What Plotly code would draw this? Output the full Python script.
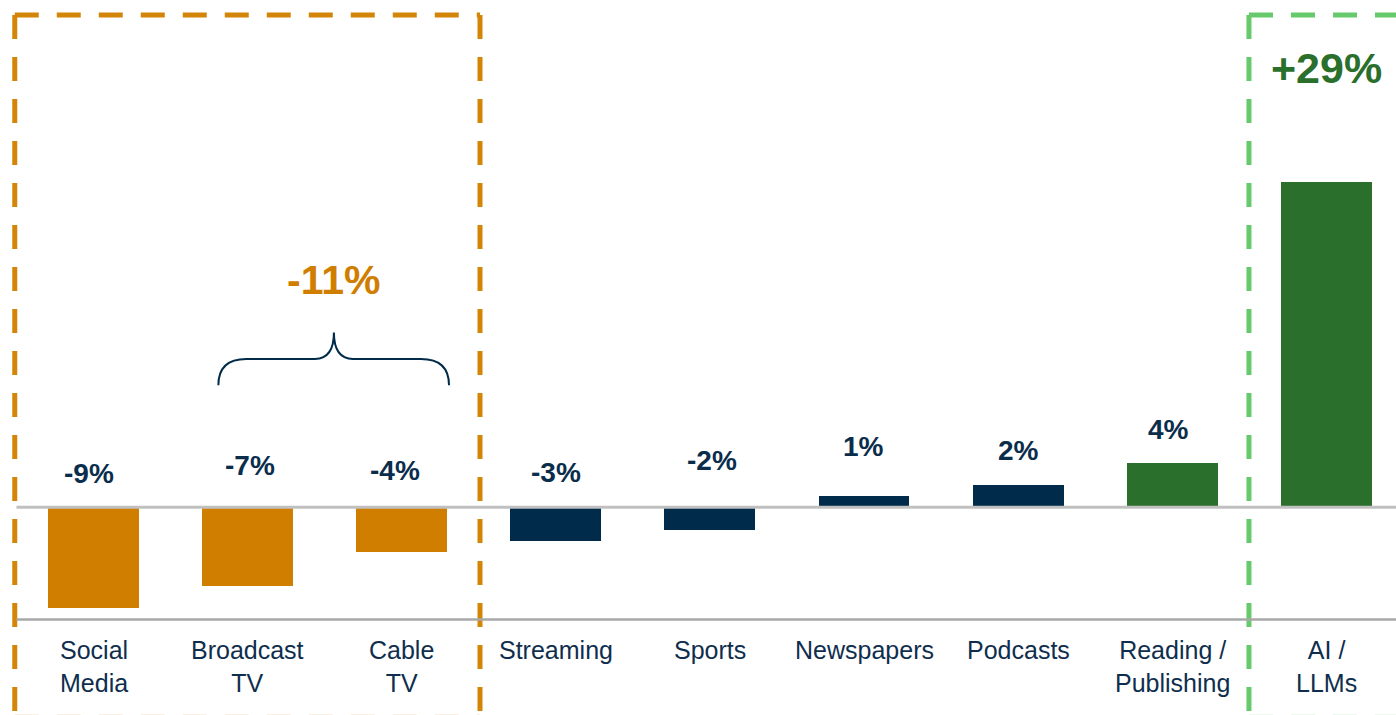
import plotly.graph_objects as go

# ---- data ----
categories = ["Social<br>Media", "Broadcast<br>TV", "Cable<br>TV", "Streaming", "Sports",
              "Newspapers", "Podcasts", "Reading /<br>Publishing", "AI /<br>LLMs"]
change_pct = [-9, -7, -4, -3, -2, 1, 2, 4, 29]
groups = ["legacy", "legacy", "legacy", "neutral", "neutral", "neutral", "neutral", "growth", "growth"]

# ---- styling ----
ORANGE = "#CF7E00"
ORANGE_DASH = "#D38508"
NAVY = "#002B4A"
NAVY_TEXT = "#0B2D4C"
LABEL_TEXT = "#0F2E4E"
GREEN = "#2B6F2C"
GREEN_DASH = "#66C96B"
GRID_ZERO = "#C0C0C0"
GRID_BASE = "#A8A8A8"
FONT = "Liberation Sans, Arial, sans-serif"

bar_colors = {"legacy": ORANGE, "neutral": NAVY, "growth": GREEN}
label_colors = {"legacy": NAVY_TEXT, "neutral": NAVY_TEXT, "growth": NAVY_TEXT}

x = list(range(len(categories)))

# vertical placement of each value label (axis units) and small horizontal nudges (px)
label_y = [3.06, 3.69, 3.29, 3.09, 4.16, 5.47, 5.05, 6.93, None]
label_dx = [-5, 2, -7, 0, 2, -1, 0, -4, 0]

X_RANGE = [-0.6068, 8.452]
Y_RANGE = [-18.54, 45.29]

fig = go.Figure()

fig.add_trace(go.Bar(
    x=x, y=change_pct, width=0.59,
    marker=dict(color=[bar_colors[g] for g in groups], line=dict(width=0)),
    hoverinfo="skip", showlegend=False,
))

shapes = []

# dashed group outlines (drawn first so the grey rules sit on top)
def dashed_box(x0, x1, color):
    top, bottom = 0.979, -0.003
    dash = "24px,18px"
    line = dict(color=color, width=5, dash=dash)
    out = [
        dict(type="line", xref="x", yref="paper", x0=x0, x1=x1, y0=top, y1=top, line=line, layer="below"),
        dict(type="line", xref="x", yref="paper", x0=x0, x1=x0, y0=top, y1=bottom, line=line, layer="below"),
        dict(type="line", xref="x", yref="paper", x0=x1, x1=x1, y0=top, y1=bottom, line=line, layer="below"),
        dict(type="line", xref="x", yref="paper", x0=x0, x1=x1, y0=bottom, y1=bottom,
             line=dict(color=color, width=5, dash=dash), opacity=0.45, layer="below"),
    ]
    return out

shapes += dashed_box(-0.511, 2.508, ORANGE_DASH)
shapes += dashed_box(7.498, 8.75, GREEN_DASH)

# zero rule and base rule
shapes.append(dict(type="line", xref="x", yref="y", x0=-0.5, x1=8.6, y0=0, y1=0,
                   line=dict(color=GRID_ZERO, width=3), layer="above"))
shapes.append(dict(type="line", xref="x", yref="y", x0=-0.5, x1=8.6, y0=-10.02, y1=-10.02,
                   line=dict(color=GRID_BASE, width=2.5), layer="above"))

# curly brace spanning Broadcast TV and Cable TV
bx0, bx1 = 0.81, 2.307
bxm = 1.56
yb, yh, yt = 10.9, 13.25, 15.6
rx_end, rx_mid = 0.182, 0.123
brace = (f"M {bx0},{yb} Q {bx0},{yh} {bx0 + rx_end},{yh} "
         f"L {bxm - rx_mid},{yh} Q {bxm},{yh} {bxm},{yt} "
         f"Q {bxm},{yh} {bxm + rx_mid},{yh} "
         f"L {bx1 - rx_end},{yh} Q {bx1},{yh} {bx1},{yb}")
shapes.append(dict(type="path", xref="x", yref="y", path=brace,
                   line=dict(color=NAVY, width=2), layer="above"))

annotations = []

# value labels
for i, v in enumerate(change_pct):
    if label_y[i] is None:
        continue
    annotations.append(dict(
        x=x[i], y=label_y[i], xref="x", yref="y", text=f"{v}%", showarrow=False,
        xshift=label_dx[i], yanchor="middle",
        font=dict(family=FONT, size=28, color=label_colors[groups[i]], weight="bold"),
    ))

# category labels
for i, c in enumerate(categories):
    annotations.append(dict(
        x=x[i], y=-11.35, xref="x", yref="y", text=c, showarrow=False,
        yanchor="top", align="center",
        font=dict(family=FONT, size=25, color=LABEL_TEXT),
    ))

# combined legacy-TV change
tv_total = change_pct[1] + change_pct[2]
annotations.append(dict(
    x=bxm, y=20.3, xref="x", yref="y", text=f"{tv_total}%", showarrow=False,
    yanchor="middle", font=dict(family=FONT, size=41, color=ORANGE, weight="bold"),
))

# AI headline figure
annotations.append(dict(
    x=x[8], y=39.2, xref="x", yref="y", text=f"+{change_pct[8]}%", showarrow=False,
    yanchor="middle", font=dict(family=FONT, size=43, color=GREEN, weight="bold"),
))

fig.update_layout(
    width=1396, height=715,
    margin=dict(l=0, r=0, t=0, b=0),
    paper_bgcolor="white", plot_bgcolor="white",
    xaxis=dict(range=X_RANGE, visible=False, fixedrange=True),
    yaxis=dict(range=Y_RANGE, visible=False, fixedrange=True),
    shapes=shapes, annotations=annotations,
    bargap=0, showlegend=False,
)

fig.write_html("out.html", config={"displayModeBar": False})
